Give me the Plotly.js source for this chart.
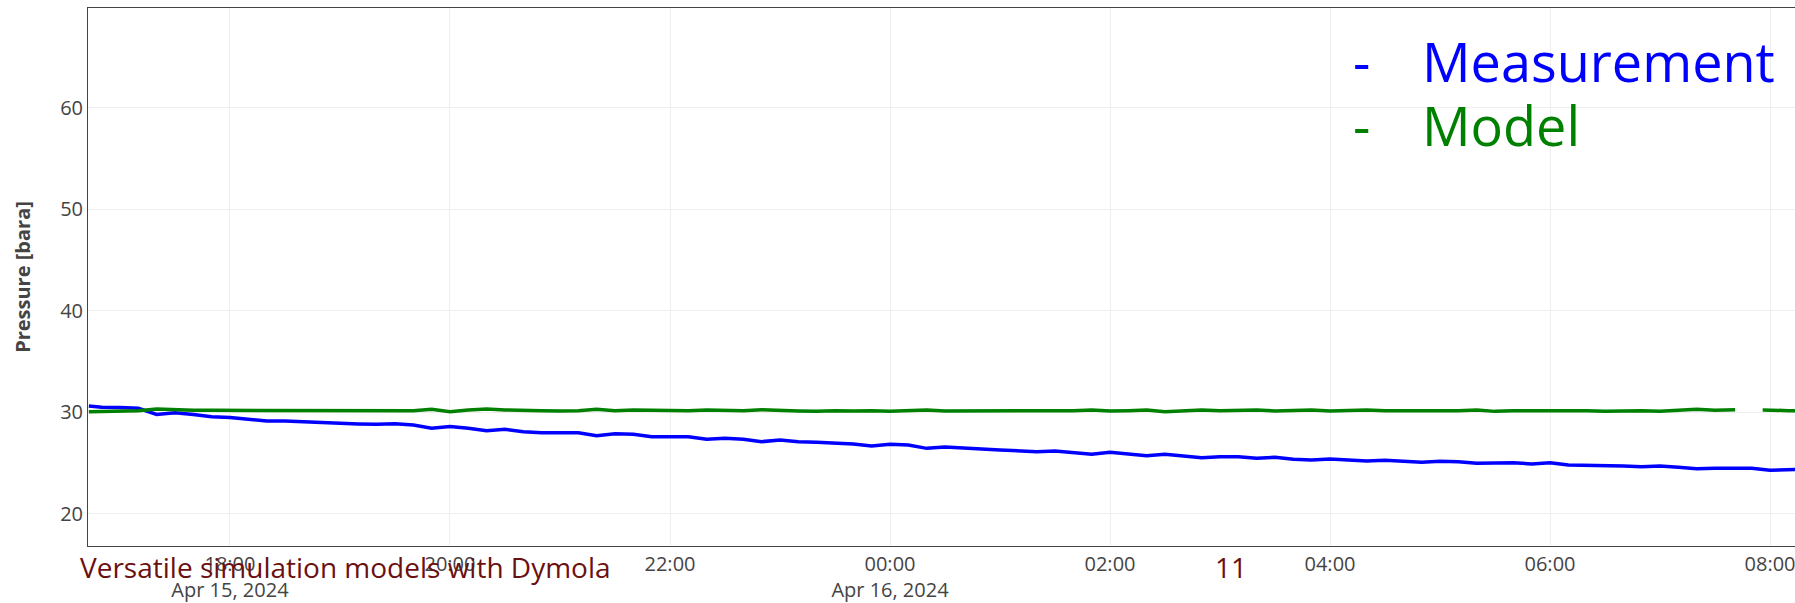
<!DOCTYPE html>
<html><head><meta charset="utf-8">
<script src="https://cdn.plot.ly/plotly-3.0.1.min.js"></script>
<style>html,body{margin:0;padding:0;overflow:hidden;background:#fff}#chart{width:1795px;height:603px}</style>
</head><body><div id="chart"></div>
<script>
// ---- data ----
const times = [
 "2024-04-15 16:43","2024-04-15 16:50",
 "2024-04-15 17:00","2024-04-15 17:10","2024-04-15 17:20","2024-04-15 17:30","2024-04-15 17:40","2024-04-15 17:50",
 "2024-04-15 18:00","2024-04-15 18:10","2024-04-15 18:20","2024-04-15 18:30","2024-04-15 18:40","2024-04-15 18:50",
 "2024-04-15 19:00","2024-04-15 19:10","2024-04-15 19:20","2024-04-15 19:30","2024-04-15 19:40","2024-04-15 19:50",
 "2024-04-15 20:00","2024-04-15 20:10","2024-04-15 20:20","2024-04-15 20:30","2024-04-15 20:40","2024-04-15 20:50",
 "2024-04-15 21:00","2024-04-15 21:10","2024-04-15 21:20","2024-04-15 21:30","2024-04-15 21:40","2024-04-15 21:50",
 "2024-04-15 22:00","2024-04-15 22:10","2024-04-15 22:20","2024-04-15 22:30","2024-04-15 22:40","2024-04-15 22:50",
 "2024-04-15 23:00","2024-04-15 23:10","2024-04-15 23:20","2024-04-15 23:30","2024-04-15 23:40","2024-04-15 23:50",
 "2024-04-16 00:00","2024-04-16 00:10","2024-04-16 00:20","2024-04-16 00:30","2024-04-16 00:40","2024-04-16 00:50",
 "2024-04-16 01:00","2024-04-16 01:10","2024-04-16 01:20","2024-04-16 01:30","2024-04-16 01:40","2024-04-16 01:50",
 "2024-04-16 02:00","2024-04-16 02:10","2024-04-16 02:20","2024-04-16 02:30","2024-04-16 02:40","2024-04-16 02:50",
 "2024-04-16 03:00","2024-04-16 03:10","2024-04-16 03:20","2024-04-16 03:30","2024-04-16 03:40","2024-04-16 03:50",
 "2024-04-16 04:00","2024-04-16 04:10","2024-04-16 04:20","2024-04-16 04:30","2024-04-16 04:40","2024-04-16 04:50",
 "2024-04-16 05:00","2024-04-16 05:10","2024-04-16 05:20","2024-04-16 05:30","2024-04-16 05:40","2024-04-16 05:50",
 "2024-04-16 06:00","2024-04-16 06:10","2024-04-16 06:20","2024-04-16 06:30","2024-04-16 06:40","2024-04-16 06:50",
 "2024-04-16 07:00","2024-04-16 07:10","2024-04-16 07:20","2024-04-16 07:30","2024-04-16 07:40","2024-04-16 07:50",
 "2024-04-16 08:00","2024-04-16 08:10","2024-04-16 08:14"
];
const measurement = [
 30.63,30.50,
 30.47,30.40,29.80,29.97,29.80,29.58,
 29.50,29.32,29.15,29.15,29.05,28.99,
 28.92,28.86,28.83,28.89,28.76,28.43,
 28.60,28.43,28.20,28.33,28.10,28.00,
 28.03,28.00,27.71,27.90,27.84,27.61,
 27.61,27.61,27.35,27.45,27.35,27.12,
 27.28,27.12,27.05,26.96,26.90,26.69,
 26.86,26.79,26.46,26.60,26.46,26.40,
 26.30,26.23,26.13,26.20,26.07,25.87,
 26.07,25.90,25.74,25.87,25.74,25.54,
 25.64,25.64,25.48,25.58,25.38,25.32,
 25.41,25.32,25.22,25.28,25.22,25.09,
 25.18,25.15,24.99,25.05,25.05,24.92,
 25.05,24.82,24.79,24.82,24.72,24.66,
 24.72,24.59,24.46,24.49,24.49,24.49,
 24.30,24.39,24.39
];
const modelTimes = times.slice(0, 90).concat([
 "2024-04-16 07:41","2024-04-16 07:48","2024-04-16 07:56","2024-04-16 08:00","2024-04-16 08:10","2024-04-16 08:14"
]);
const model = [
 30.07,30.10,
 30.14,30.17,30.33,30.24,30.20,30.20,
 30.20,30.14,30.17,30.20,30.17,30.20,
 30.17,30.20,30.20,30.17,30.17,30.30,
 30.07,30.24,30.33,30.24,30.17,30.17,
 30.14,30.17,30.30,30.17,30.24,30.20,
 30.20,30.17,30.24,30.17,30.17,30.27,
 30.17,30.14,30.10,30.17,30.14,30.17,
 30.10,30.14,30.24,30.14,30.14,30.14,
 30.17,30.14,30.17,30.14,30.17,30.24,
 30.14,30.17,30.24,30.07,30.17,30.24,
 30.17,30.17,30.24,30.14,30.17,30.24,
 30.14,30.17,30.24,30.17,30.17,30.17,
 30.14,30.17,30.24,30.10,30.17,30.17,
 30.17,30.20,30.17,30.10,30.17,30.17,
 30.10,30.17,30.30,30.20,
 30.27,null,30.24,30.20,30.17,30.17
];
const seriesNames = ["Measurement", "Model"];
const yTitle = "Pressure [bara]";
const footerText = "Versatile simulation models with Dymola";
const pageNumber = "11";

// ---- layout geometry ----
const W = 1795, H = 603, L = 88, T = 8, B = 57, R = 0;
const plotW = W - L - R, plotH = H - T - B;
const px = x => (x - L) / plotW;
const py = y => (H - B - y) / plotH;

const blue = "#0000ff", green = "#008000", footCol = "#6b1010";

const traces = [
 {x: times, y: measurement, type: "scatter", mode: "lines", name: seriesNames[0],
  line: {color: blue, width: 3.5}},
 {x: modelTimes, y: model, type: "scatter", mode: "lines", name: seriesNames[1],
  line: {color: green, width: 3.5}, connectgaps: false}
];

const legFont = (c) => ({family: '"Open Sans", sans-serif', size: 54, color: c});
const footFont = {family: '"Open Sans", sans-serif', size: 28, color: footCol};

const layout = {
 width: W, height: H,
 margin: {l: L, r: R, t: T, b: B, pad: 0},
 paper_bgcolor: "#fff", plot_bgcolor: "#fff",
 font: {family: '"Open Sans", sans-serif', color: "#444", size: 20},
 showlegend: false,
 xaxis: {
  type: "date",
  range: ["2024-04-15 16:42:33", "2024-04-16 08:13:38"],
  tick0: "2024-04-15 00:00", dtick: 7200000,
  showgrid: true, gridcolor: "#eee", gridwidth: 1,
  showline: true, linecolor: "#444", linewidth: 1, mirror: true,
  zeroline: false, ticks: "", ticklabeloverflow: "allow",
  tickfont: {size: 20, color: "#444"}
 },
 yaxis: {
  range: [16.85, 69.8], tick0: 0, dtick: 10,
  showgrid: true, gridcolor: "#eee", gridwidth: 1,
  showline: true, linecolor: "#444", linewidth: 1, mirror: false,
  zeroline: false, ticks: "",
  tickfont: {size: 20, color: "#444"},
  title: {text: "<b>" + yTitle + "</b>", font: {size: 20, color: "#444"}, standoff: 24}
 },
 annotations: [
  {xref: "paper", yref: "paper", x: px(1361.5), y: py(60.7), xanchor: "center", yanchor: "middle",
   text: "-", showarrow: false, font: legFont(blue)},
  {xref: "paper", yref: "paper", x: px(1420), y: py(60.7), xanchor: "left", yanchor: "middle",
   text: seriesNames[0], showarrow: false, font: legFont(blue)},
  {xref: "paper", yref: "paper", x: px(1361.5), y: py(124.7), xanchor: "center", yanchor: "middle",
   text: "-", showarrow: false, font: legFont(green)},
  {xref: "paper", yref: "paper", x: px(1420), y: py(124.7), xanchor: "left", yanchor: "middle",
   text: seriesNames[1], showarrow: false, font: legFont(green)},
  {xref: "paper", yref: "paper", x: px(78), y: py(567), xanchor: "left", yanchor: "middle",
   text: footerText, showarrow: false, font: footFont},
  {xref: "paper", yref: "paper", x: px(1231), y: py(567), xanchor: "center", yanchor: "middle",
   text: pageNumber, showarrow: false, font: footFont}
 ]
};

Plotly.newPlot("chart", traces, layout, {displayModeBar: false, staticPlot: true});
</script></body></html>
